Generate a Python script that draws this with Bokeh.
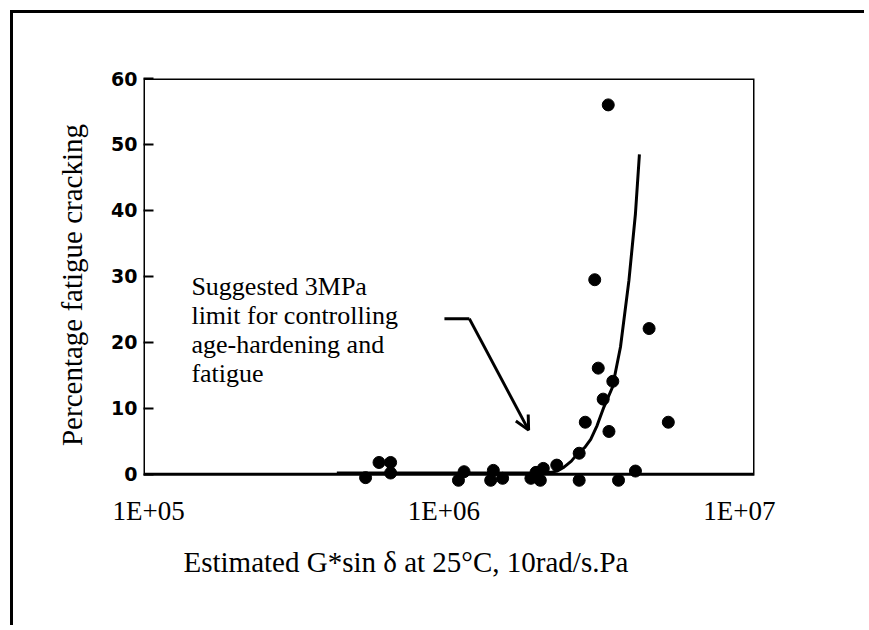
import math
from bokeh.plotting import figure
from bokeh.models import (Range1d, FixedTicker, CustomJSTickFormatter, BoxAnnotation,
                          Label, Arrow, OpenHead, Title)
from bokeh.embed import file_html
from bokeh.resources import INLINE

# ---------------- data ----------------
# scatter points: estimated G*sin(delta) [Pa] and percentage fatigue cracking
g_sin_delta = [3.60e6, 3.24e6, 4.95e6, 3.33e6, 3.73e6, 3.46e6, 3.01e6, 3.62e6,
               5.75e6, 2.87e6, 2.41e6, 2.17e6, 4.45e6, 2.87e6, 3.90e6,
               5.43e5, 6.03e5, 6.60e5, 6.60e5, 1.17e6, 1.12e6, 1.47e6, 1.44e6,
               1.58e6, 1.97e6, 2.05e6, 2.12e6]
cracking = [56.0, 29.5, 22.1, 16.1, 14.1, 11.4, 7.9, 6.5,
            7.9, 3.2, 1.4, 0.9, 0.5, -0.9, -0.9,
            -0.5, 1.8, 1.8, 0.2, 0.4, -0.9, 0.6, -0.9,
            -0.6, -0.6, 0.3, -0.9]

# fitted trend curve
curve_x = [4.34e5, 8.0e5, 1.5e6, 2.12e6, 2.30e6, 2.42e6, 2.55e6, 2.70e6, 2.83e6,
           3.00e6, 3.14e6, 3.30e6, 3.48e6, 3.72e6, 3.96e6, 4.23e6, 4.45e6, 4.59e6]
curve_y = [0.2, 0.2, 0.2, 0.2, 0.3, 0.5, 1.1, 2.0, 3.1,
           4.1, 5.3, 7.4, 10.2, 13.2, 19.3, 29.4, 39.5, 48.5]

y_ticks = [0, 10, 20, 30, 40, 50, 60]
x_ticks = [1e5, 1e6, 1e7]
x_tick_labels = ["1E+05", "1E+06", "1E+07"]

x_title = "Estimated G*sin \u03b4 at 25\u00b0C, 10rad/s.Pa"
y_title = "Percentage fatigue cracking"

annotation_lines = ["Suggested 3MPa", "limit for controlling",
                    "age-hardening and", "fatigue"]
annotation_x = 1.397e5
annotation_y = [28.48, 24.09, 19.70, 15.30]

arrow_path_x = [1.004e6, 1.219e6, 1.935e6]
arrow_path_y = [23.6, 23.6, 6.7]

X_START, X_END = 10 ** 4.983, 10 ** 7.0514
Y_START, Y_END = -2.6, 60

# ---------------- figure ----------------
p = figure(width=854, height=615, x_axis_type="log",
           x_range=Range1d(X_START, X_END), y_range=Range1d(Y_START, Y_END),
           output_backend="svg", toolbar_location=None,
           min_border_left=130, min_border_right=113,
           min_border_top=65, min_border_bottom=137)
p.outline_line_alpha = 0
p.grid.visible = False
p.background_fill_color = "white"
p.border_fill_color = "white"
# outer picture border: only the left and top edges are visible in the scan
p.styles = {"border-left": "3px solid black", "border-top": "3px solid black",
            "margin-left": "10px", "margin-top": "10px"}

# plot frame (0..60)
p.add_layout(BoxAnnotation(left=X_START, right=X_END, bottom=0, top=60,
                           fill_alpha=0, line_color="black", line_alpha=1,
                           line_width=3))

# y axis
ya = p.yaxis[0]
ya.ticker = FixedTicker(ticks=y_ticks)
ya.axis_line_alpha = 0
ya.major_tick_in = 10
ya.major_tick_out = 0
ya.minor_tick_in = 0
ya.minor_tick_out = 0
ya.major_tick_line_width = 2
ya.major_tick_line_color = "black"
ya.major_label_standoff = 6
ya.major_label_text_font = "DejaVu Sans"
ya.major_label_text_font_style = "bold"
ya.major_label_text_font_size = "19px"
ya.major_label_text_color = "black"
ya.axis_label = y_title
ya.axis_label_text_font = "Liberation Serif"
ya.axis_label_text_font_style = "normal"
ya.axis_label_text_font_size = "29px"
ya.axis_label_text_color = "black"
ya.axis_label_standoff = 20

# x axis
xa = p.xaxis[0]
xa.ticker = FixedTicker(ticks=x_ticks)
xa.formatter = CustomJSTickFormatter(args=dict(tvals=x_ticks, tlabels=x_tick_labels), code="""
    let best = 0;
    for (let i = 0; i < tvals.length; i++) {
        if (Math.abs(Math.log10(tvals[i]) - Math.log10(tick)) < Math.abs(Math.log10(tvals[best]) - Math.log10(tick))) best = i;
    }
    return tlabels[best];
""")
xa.axis_line_alpha = 0
xa.major_tick_in = 0
xa.major_tick_out = 0
xa.minor_tick_in = 0
xa.minor_tick_out = 0
xa.major_label_standoff = 4
xa.major_label_text_font = "Liberation Serif"
xa.major_label_text_font_size = "27px"
xa.major_label_text_color = "black"

# x title, placed below the axis and shifted left like in the scan
p.add_layout(Title(text=x_title, align="left", offset=40, standoff=30,
                   text_font="Liberation Serif", text_font_size="29px",
                   text_font_style="normal", text_color="black"), "below")

# trend curve
p.line(curve_x, curve_y, line_color="black", line_width=3)

# scatter points
p.scatter(g_sin_delta, cracking, size=12, marker="circle",
          fill_color="black", line_color="black")

# annotation text
for line, yy in zip(annotation_lines, annotation_y):
    p.add_layout(Label(x=annotation_x, y=yy, text=line,
                       text_font="Liberation Serif", text_font_size="26px",
                       text_color="black", text_baseline="alphabetic"))

# arrow
p.line(arrow_path_x[:2], arrow_path_y[:2], line_color="black", line_width=3)
p.add_layout(Arrow(end=OpenHead(size=14, line_width=3, line_color="black"),
                   x_start=arrow_path_x[1], y_start=arrow_path_y[1],
                   x_end=arrow_path_x[2], y_end=arrow_path_y[2],
                   line_color="black", line_width=3))

open("out.html", "w").write(file_html(p, INLINE))
